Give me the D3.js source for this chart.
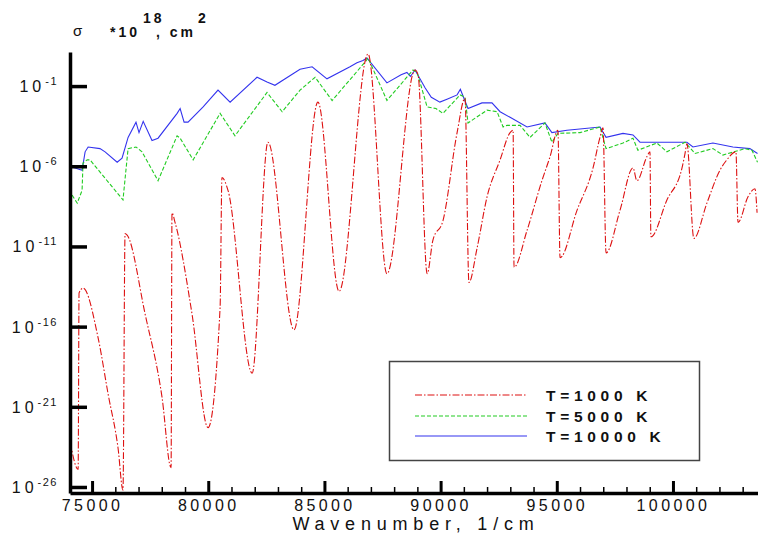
<!DOCTYPE html>
<html>
<head>
<meta charset="utf-8">
<script src="https://cdn.jsdelivr.net/npm/d3@7"></script>
<style>
  body { margin: 0; background: #fff; }
  svg { display: block; font-family: "Liberation Sans", Arial, sans-serif; }
</style>
</head>
<body>
<div id="chart"></div>
<script>
const WIDTH = 758;
const HEIGHT = 536;

// wavenumber (1/cm) and log10(sigma)
const wn1000 = [74060, 74400, 74440, 74610, 75260, 75690, 76120, 76330, 76420, 76510, 77280, 78010, 78400,
  78440, 78570, 79300, 79990, 80510, 80590, 80850, 81890, 82570, 83690, 84720, 85630, 86880, 87690,
  88900, 89030, 89420, 89670, 90100, 90710, 91050, 91220, 91570, 92000, 92560, 92990, 93120, 93160,
  93720, 94360, 94710, 95050, 95140, 95870, 96560, 96860, 96990, 97120, 97720, 98280, 98450, 98880,
  99010, 99050, 99740, 100390, 100520, 100600, 100900, 101460, 102020, 102320, 102710, 102800, 103230,
  103530, 103620];
const lg1000 = [-23.2, -24.9, -13.9, -13.6, -16.7, -20.2, -23.6, -26.2, -10.2, -10.3, -15.2, -20.4, -24.8,
  -8.9, -9.5, -15.2, -22.3, -14.8, -6.7, -7.5, -18.9, -4.5, -16.2, -2.0, -13.8, 1.0, -12.7,
  0.0, -0.3, -12.7, -10.6, -9.4, -3.9, -1.75, -13.25, -11.1, -7.9, -5.6, -3.9, -3.75, -12.3,
  -10.0, -6.9, -5.4, -3.75, -11.7, -8.75, -6.1, -4.2, -3.6, -11.4, -8.75, -6.1, -6.9, -5.4,
  -5.1, -10.4, -8.1, -6.1, -5.2, -4.6, -10.5, -8.3, -6.25, -5.6, -5.1, -9.5, -7.9,
  -7.4, -8.9];

const wn5000 = [74140, 74360, 74570, 74610, 74790, 74910, 76330, 76550, 76890, 77150, 77840, 78660, 78790,
  79350, 80510, 81150, 82530, 83180, 83950, 84600, 85330, 86750, 86880, 87690, 88810, 88990, 89420,
  89800, 90100, 90840, 91050, 91180, 92000, 92430, 92690, 92860, 93420, 93850, 94490, 94790, 95050, 96000,
  96860, 97120, 97850, 98280, 98490, 99310, 99740, 100520, 100950, 101720, 102150, 103100, 103400, 103640];
const lg5000 = [-7.8, -8.3, -7.5, -5.8, -5.6, -5.6, -8.1, -4.9, -4.8, -5.1, -6.9, -4.1, -4.25,
  -5.6, -2.7, -4.1, -1.4, -2.6, -1.25, -0.45, -1.9, 0.5, 0.75, -1.9, 0.0, -0.15, -2.3,
  -2.4, -2.7, -1.55, -1.7, -3.3, -2.5, -2.6, -3.55, -3.45, -3.45, -4.2, -3.3, -4.5, -3.95, -3.9,
  -3.55, -4.9, -4.55, -4.25, -5.0, -4.55, -5.1, -4.5, -5.2, -4.9, -5.3, -4.9, -5.0, -5.75];

const wn10000 = [74140, 74570, 74700, 74830, 75340, 75560, 76080, 76290, 76550, 76890, 77020, 77200, 77580,
  77840, 78660, 78790, 78960, 79130, 79780, 80420, 80940, 82100, 82530, 82870, 83950, 84470, 85110,
  86100, 86400, 86660, 86830, 87690, 88300, 88550, 88700, 88900, 89330, 89600, 89970, 90300, 90710,
  90850, 90960, 91180, 91780, 92210, 92560, 92990, 93720, 94490, 94790, 95440, 96860, 97120, 97850,
  98280, 98580, 100000, 100600, 100860, 101720, 102580, 103310, 103640];
const lg10000 = [-6.05, -6.25, -5.1, -4.8, -4.9, -5.1, -5.75, -5.5, -4.2, -3.25, -3.9, -3.2, -4.4,
  -4.25, -2.7, -2.4, -3.25, -3.25, -2.3, -1.25, -2.0, -0.45, -0.75, -0.95, 0.05, 0.2, -0.55,
  0.2, 0.45, 0.6, 0.75, -0.8, -0.3, -0.15, -0.4, 0.0, -1.1, -1.7, -2.0, -1.8, -1.55,
  -1.2, -1.6, -2.4, -2.05, -2.05, -2.6, -2.95, -3.55, -3.3, -3.9, -3.75, -3.55, -4.2, -3.95,
  -4.05, -4.5, -4.5, -4.5, -4.8, -4.55, -4.8, -4.9, -5.2];

const seriesNames = ["T=1000 K", "T=5000 K", "T=10000 K"];
const seriesColors = ["#dd1111", "#22cc22", "#3333ee"];
const seriesDash = ["7,2,1.5,2", "4,2", null];

const xMajor = [75000, 80000, 85000, 90000, 95000, 100000];
const xMinor = d3.range(75000, 104000, 1000).filter(v => v % 5000 !== 0);
const yExp = [-1, -6, -11, -16, -21, -26];

const series = [
  wn1000.map((w, i) => [w, lg1000[i]]),
  wn5000.map((w, i) => [w, lg5000[i]]),
  wn10000.map((w, i) => [w, lg10000[i]])
];

const xScale = d3.scaleLinear()
  .domain([74050, 103660])
  .range([70, 758]);

const yScale = d3.scaleLog()
  .domain([Math.pow(10, -26.375), Math.pow(10, 1.125)])
  .range([493, 52]);

const svg = d3.select("#chart")
  .append("svg")
  .attr("width", WIDTH)
  .attr("height", HEIGHT);

svg.append("clipPath").attr("id", "plot")
  .append("rect").attr("x", 70).attr("y", 40).attr("width", 688).attr("height", 453);

// curves, blue first so red sits on top; red is smoothed, the others stay jagged
const lineFor = i => d3.line()
  .curve(i === 0 ? d3.curveMonotoneX : d3.curveLinear)
  .x(d => xScale(d[0]))
  .y(d => yScale(Math.pow(10, d[1])));

[2, 1, 0].forEach(i => {
  svg.append("path")
    .datum(series[i])
    .attr("clip-path", "url(#plot)")
    .attr("fill", "none")
    .attr("stroke", seriesColors[i])
    .attr("stroke-width", 1.1)
    .attr("stroke-dasharray", seriesDash[i])
    .attr("d", lineFor(i));
});

// x axis: minor then major ticks
const xMinorAxis = d3.axisBottom(xScale).tickValues(xMinor).tickSize(-6).tickSizeOuter(0).tickFormat("");
svg.append("g")
  .attr("transform", "translate(0," + 493 + ")")
  .call(xMinorAxis)
  .call(g => g.select(".domain").remove())
  .call(g => g.selectAll("line").attr("stroke-width", 1.5));

const xAxis = d3.axisBottom(xScale).tickValues(xMajor).tickSize(-12).tickSizeOuter(0).tickPadding(7)
  .tickFormat(d3.format("d"));
svg.append("g")
  .attr("transform", "translate(0," + 493 + ")")
  .call(xAxis)
  .call(g => g.select(".domain").attr("stroke-width", 3.5))
  .call(g => g.selectAll("line").attr("stroke-width", 3))
  .call(g => g.selectAll("text")
    .attr("font-size", 16)
    .attr("letter-spacing", 3.4)
    .attr("fill", "#111")
    .attr("font-family", "Liberation Sans, Arial, sans-serif"));

svg.append("text")
  .attr("x", 416)
  .attr("y", 530)
  .attr("text-anchor", "middle")
  .attr("font-size", 18)
  .attr("letter-spacing", 5.8)
  .attr("fill", "#111")
  .text("Wavenumber, 1/cm");

// y axis: inward ticks, labels drawn as 10 with superscript
const yAxis = d3.axisLeft(yScale)
  .tickValues(yExp.map(e => Math.pow(10, e)))
  .tickSize(-17).tickSizeOuter(0).tickFormat("");
svg.append("g")
  .attr("transform", "translate(" + 70 + ",0)")
  .call(yAxis)
  .call(g => g.select(".domain").attr("stroke-width", 3.5))
  .call(g => g.selectAll("line").attr("stroke-width", 3.5));

const yLabels = svg.append("g");
yExp.forEach(e => {
  const t = yLabels.append("text")
    .attr("x", 58)
    .attr("y", yScale(Math.pow(10, e)) + 6)
    .attr("text-anchor", "end")
    .attr("fill", "#111");
  t.append("tspan").attr("font-size", 16).attr("letter-spacing", 4).text("10");
  t.append("tspan").attr("font-size", 11).attr("dy", -7).attr("letter-spacing", 1.5).text(e);
});

// unit label at top left
const unit = svg.append("g").attr("fill", "#111");
unit.append("text").attr("x", 73).attr("y", 36).attr("font-size", 15).text("σ");
unit.append("text").attr("x", 110).attr("y", 37).attr("font-size", 14).attr("font-weight", "bold")
  .attr("letter-spacing", 3).text("*10");
unit.append("text").attr("x", 143).attr("y", 23).attr("font-size", 14).attr("font-weight", "bold")
  .attr("letter-spacing", 3).text("18");
unit.append("text").attr("x", 156).attr("y", 37).attr("font-size", 14).attr("font-weight", "bold")
  .attr("letter-spacing", 3).text(", cm");
unit.append("text").attr("x", 198).attr("y", 23).attr("font-size", 14).attr("font-weight", "bold")
  .text("2");

// legend
const legend = svg.append("g");
legend.append("rect")
  .attr("x", 389.5).attr("y", 361.5).attr("width", 310).attr("height", 99)
  .attr("fill", "#fff").attr("stroke", "#444").attr("stroke-width", 1.5);

const legendY = [395, 416, 436];
seriesNames.forEach((name, i) => {
  legend.append("line")
    .attr("x1", 415).attr("x2", 527)
    .attr("y1", legendY[i]).attr("y2", legendY[i])
    .attr("stroke", seriesColors[i])
    .attr("stroke-width", 1.1)
    .attr("stroke-dasharray", seriesDash[i]);
  legend.append("text")
    .attr("x", 546).attr("y", legendY[i] + 6)
    .attr("font-size", 15.5).attr("font-weight", "bold")
    .attr("letter-spacing", 4.7)
    .attr("fill", "#111")
    .text(name);
});
</script>
</body>
</html>
